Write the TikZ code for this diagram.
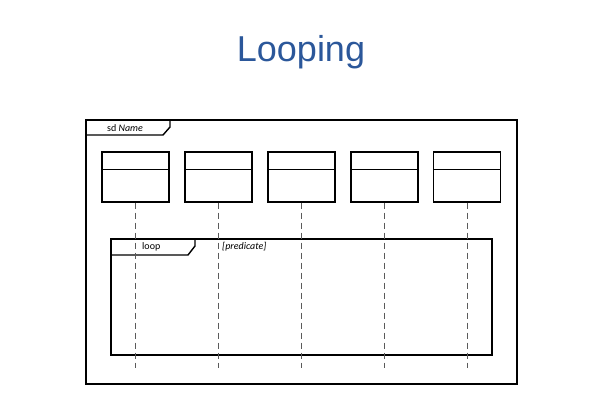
\documentclass[tikz,border=0pt]{standalone}
\usepackage{fontspec}
\setmainfont{Carlito}
\newfontfamily\titlefont{Liberation Sans}
\definecolor{titleblue}{HTML}{2B579A}
\definecolor{lifegray}{HTML}{5A5A5A}

\begin{document}
\begin{tikzpicture}[x=1pt,y=-1pt,
	frame/.style={line width=1.4pt},
	lifebox/.style={draw,line width=1.4pt,minimum width=67pt,minimum height=50pt,inner sep=0pt},
	lifeline/.style={dash pattern=on 6pt off 4pt,color=lifegray,line width=0.8pt},
	tag/.style={font=\fontsize{10}{12}\selectfont,anchor=west,inner sep=0pt}]

	\useasboundingbox (0,0) rectangle (610,416);

	\node[font=\titlefont\fontsize{36}{40}\selectfont,text=titleblue] (title) at (301,52) {Looping};

	% sd frame
	\draw[frame] (86,120) rectangle (517,384);
	\draw[frame] (86,135) -- (163,135) -- (170,127) -- (170,120);
	\node[tag] (sd) at (107,128) {sd \textit{Name}};

	% loop fragment
	\draw[frame] (111,239) rectangle (492,355);
	\draw[frame] (111,255) -- (188,255) -- (195,246) -- (195,239);
	\node[tag] (loop) at (142,247) {loop};
	\node[tag] (pred) at (222,247) {\textit{[predicate]}};

	% lifelines
	\foreach \i/\x in {1/135.5,2/218.5,3/301.5,4/384.5,5/467}{
		\node[lifebox] (b\i) at (\x,177) {};
		\draw[line width=1.4pt] ([yshift=-18pt]b\i.north west) -- ([yshift=-18pt]b\i.north east);
		\coordinate (e\i) at (\x,368);
		\draw[lifeline] (b\i.south) -- (e\i);
	}

\end{tikzpicture}
\end{document}
